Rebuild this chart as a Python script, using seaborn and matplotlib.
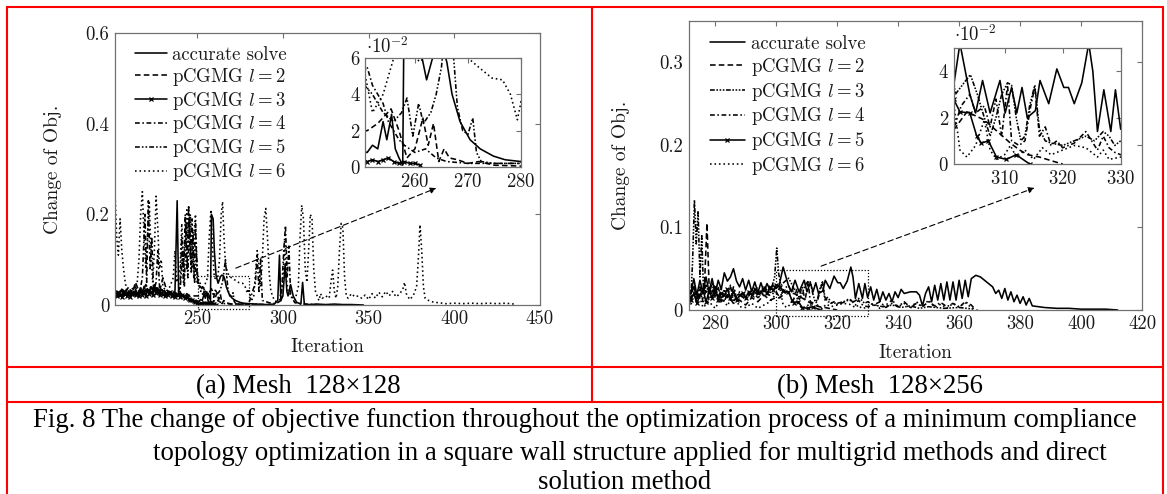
import pandas as pd
import matplotlib
matplotlib.use("Agg")
import matplotlib.pyplot as plt
import seaborn as sns
from matplotlib.lines import Line2D
from matplotlib.patches import Rectangle

# ---------------- data: (iteration, change of objective) ----------------
# (a) mesh 128x128
a_acc = [(202, .022), (203, .030), (204, .018), (205, .027), (206, .033), (207, .021), (208, .026), (209, .019),
         (210, .031), (211, .024), (212, .028), (213, .020), (214, .034), (215, .025), (216, .029), (217, .038),
         (218, .027), (219, .041), (220, .030), (221, .036), (222, .026), (223, .040), (224, .031), (225, .045),
         (226, .029), (227, .038), (228, .024), (229, .035), (230, .028), (231, .032), (232, .022), (233, .030),
         (234, .025), (235, .028), (236, .020), (237, .026), (238.3, .23), (239.2, .02), (240, .025), (241, .018),
         (242, .022), (243, .015), (244, .018), (245, .012), (246, .014), (247, .010), (248, .009), (249, .008),
         (250, .009), (251, .008), (252, .012), (253, .010), (254, .025), (254.7, .015), (255.6, .029), (256.3, .010),
         (257, .005), (257.7, .001), (258.3, .20), (259.3, .19), (260, .12), (261, .065), (262.2, .048), (263.6, .063),
         (264.5, .066), (265.3, .064), (266, .058), (267, .040), (268.5, .025), (270.4, .015), (272.3, .010),
         (274.8, .006), (277, .004), (280, .003), (285, .002), (290, .001), (295, .002), (297, .010), (298, .11),
         (298.8, .010), (300, .020), (301.3, .09), (302.3, .030), (303, .020), (304.5, .045), (306, .020), (308, .006),
         (310.5, .002), (311.5, .050), (312.5, .002), (315, .001), (320, .002), (325, .001), (330, .002), (335, .001),
         (340, .001), (347, 0)]
a_l2 = [(202, .030), (204, .022), (206, .035), (208, .027), (210, .040), (212, .025), (214, .050), (216, .030),
        (218, .028), (220, .045), (222, .032), (224, .026), (226, .038), (228, .030), (230, .060), (232, .035),
        (234, .025), (236, .030), (238, .022), (240, .028), (242, .020), (244, .025), (246, .018), (248, .020),
        (250, .020), (251, .020), (253, .024), (255.5, .032), (257, .020), (258.5, .005), (260, .010), (261.5, .027),
        (262.5, .012), (263.5, .024), (264.5, .003), (265.5, .010), (266.5, .005), (268, .004), (270, .002),
        (272, .003), (275, .001), (280, .0005), (285, 0)]
a_l3 = [(202, .025), (203, .019), (204, .028), (205, .022), (206, .017), (207, .030), (208, .024), (209, .020),
        (210, .027), (211, .018), (212, .025), (213, .029), (214, .021), (215, .026), (216, .019), (217, .031),
        (218, .023), (219, .028), (220, .020), (221, .033), (222, .025), (223, .029), (224, .022), (225, .035),
        (226, .026), (227, .030), (228, .021), (229, .027), (230, .024), (231, .019), (232, .026), (233, .022),
        (234, .028), (235, .020), (236, .024), (237, .018), (238, .025), (239, .021), (240, .017), (241, .023),
        (242, .019), (243, .015), (244, .020), (245, .014), (246, .011), (247, .012), (248, .008), (249, .006),
        (250, .005), (251, .003), (252, .004), (253, .003), (254, .004), (255, .005), (256, .003), (257, .002),
        (258, .003), (259, .002), (260, .002), (261, .001)]
a_l4 = [(202, .020), (206, .030), (210, .025), (214, .040), (216, .020), (218, .060), (219.5, .20), (220.5, .05),
        (221.5, .23), (222.5, .08), (223.5, .15), (224.5, .03), (226, .05), (227, .12), (228, .04), (230, .03),
        (232, .02), (234, .03), (236, .02), (238, .02), (240, .04), (241, .15), (242, .05), (243, .20), (244, .08),
        (245, .22), (246, .10), (247, .19), (248, .06), (249, .18), (250, .05), (251, .055), (252, .045), (253, .040),
        (254, .035), (255, .025), (256, .020), (257, .015), (258, .012), (259, .010), (260, .008), (262, .010),
        (264, .005), (266, .003), (270, .002), (275, .002), (280, .002), (284, .05), (285, .11), (286, .03),
        (287, .10), (288, .01), (292, .005), (296, .003), (299, .01), (300.5, .12), (301.5, .175), (302.5, .06),
        (303.5, .13), (304.5, .02), (307, .005), (312, .002), (320, .001)]
a_l5 = [(202, .015), (205, .025), (208, .020), (211, .030), (214, .025), (217, .035), (220, .030), (223, .040),
        (226, .030), (229, .035), (232, .025), (235, .030), (238, .025), (240, .030), (241.5, .12), (242.5, .04),
        (243.5, .18), (244.5, .06), (245.5, .20), (246.5, .07), (247.5, .16), (248.5, .05), (249.5, .12),
        (250.5, .045), (252, .040), (254, .030), (256, .025), (257.5, .030), (258.5, .038), (259.6, .017),
        (260.7, .035), (261.6, .024), (263, .030), (264, .040), (265, .055), (265.8, .080), (266.5, .10),
        (267.3, .060), (268, .033), (269, .020), (270, .018), (270.9, .027), (271.6, .008), (272.5, .003),
        (275, .002), (280, .002), (290, .001)]
a_l6 = [(202, .25), (203, .15), (204, .11), (205, .19), (206, .12), (207, .08), (208, .05), (209, .03), (211, .03),
        (213, .04), (215, .05), (216, .10), (217, .20), (218, .25), (219, .15), (220, .08), (221, .15), (222, .23),
        (223, .12), (224, .05), (225, .12), (226, .24), (227, .17), (228, .08), (229, .10), (230, .04), (232, .03),
        (234, .04), (236, .06), (237, .12), (238, .05), (240, .08), (241, .18), (242, .10), (243, .14), (244, .21),
        (245, .12), (246, .20), (247, .08), (248, .15), (249, .20), (250, .06), (252, .03), (254, .04), (256, .06),
        (257, .15), (258, .21), (259, .12), (260, .06), (261, .058), (262, .061), (263, .10), (264, .20),
        (264.8, .228), (265.6, .15), (266.5, .09), (267.5, .075), (268.5, .065), (270, .060), (272, .055),
        (274.5, .049), (276.5, .048), (278, .040), (279.3, .026), (280, .036), (281, .020), (282, .012), (283, .020),
        (284, .07), (285, .12), (286, .09), (287, .04), (288, .10), (289, .19), (290, .213), (291, .15), (292, .07),
        (293, .03), (294, .02), (295, .01), (296, .008), (298, .01), (300, .05), (301, .14), (302, .06), (303, .03),
        (305, .02), (307, .01), (309, .04), (310, .15), (311, .22), (312, .19), (313, .08), (314, .05), (315, .12),
        (316, .20), (317, .19), (318, .08), (319, .03), (320, .02), (321, .01), (322, .025), (323, .015), (325, .02),
        (327, .015), (328, .05), (329, .077), (330, .03), (331, .015), (332, .04), (333, .12), (334, .18), (335, .17),
        (336, .06), (337, .02), (338, .015), (340, .025), (342, .018), (344, .02), (346, .015), (348, .022),
        (350, .012), (352, .025), (354, .015), (356, .028), (358, .018), (360, .03), (362, .02), (364, .03),
        (366, .018), (368, .024), (370, .035), (371, .05), (372, .025), (374, .012), (376, .02), (378, .04),
        (379, .10), (380, .177), (381, .12), (382, .04), (383, .015), (385, .01), (388, .006), (391, .005),
        (395, .003), (400, .004), (405, .003), (410, .004), (415, .003), (420, .004), (425, .003), (430, .004),
        (435, .002)]

# (b) mesh 128x256
b_acc = [(271.5, .025), (272, .020), (273, .038), (274, .018), (275, .036), (276, .020), (277, .040), (278, .022),
         (279, .038), (280, .020), (281, .036), (282, .025), (283, .045), (284, .035), (285, .040), (286, .050),
         (287, .035), (288, .028), (289, .038), (290, .024), (291, .036), (292, .022), (293, .034), (294, .021),
         (295, .033), (296, .022), (297, .032), (298, .024), (299, .030), (300, .026), (301, .030), (302.3, .052),
         (304, .030), (305, .022), (306.2, .036), (307.5, .022), (309.2, .036), (310.1, .022), (311.2, .033),
         (312.1, .022), (313, .033), (313.9, .020), (315.3, .023), (316.1, .036), (317.6, .026), (319, .041),
         (320.2, .033), (321, .033), (322, .026), (323.3, .035), (324.5, .052), (325.2, .040), (326, .014),
         (327.1, .032), (328.3, .014), (329.1, .032), (330, .015), (331, .028), (332, .012), (333, .025), (334, .010),
         (335, .022), (336, .012), (337, .020), (338, .010), (339, .022), (340, .015), (341, .025), (342, .020),
         (344, .022), (346, .022), (347, .018), (348, .005), (349, .020), (350, .028), (351, .010), (352, .030),
         (353, .012), (354, .032), (355, .012), (356, .034), (357, .012), (358, .034), (359, .012), (360, .036),
         (361, .014), (362, .036), (363, .016), (364, .038), (365.5, .042), (367, .040), (369, .034), (371, .028),
         (372, .020), (373, .024), (374, .014), (375, .026), (376, .012), (377, .022), (378, .010), (379, .018),
         (380, .008), (381, .016), (382, .006), (383, .014), (384, .005), (386, .004), (388, .003), (392, .002),
         (396, .002), (400, .001), (404, .001), (408, .001), (412, 0)]
b_l2 = [(271.5, .012), (272, .015), (273, .030), (274, .010), (275, .025), (276, .020), (276.5, .030), (277.3, .105),
        (278, .030), (279, .015), (280, .022), (282, .010), (284, .018), (286, .008), (288, .012), (290, .006),
        (292, .015), (294, .010), (296, .018), (298, .012), (300, .015), (301.2, .0146), (303.5, .0225),
        (306.5, .019), (309.2, .013), (311, .009), (312.6, .006), (314, .004), (316, .003), (318.6, .001), (320, 0)]
b_l3 = [(271.5, .012), (272, .010), (272.6, .06), (273.2, .133), (273.8, .08), (274.4, .12), (275, .04), (275.6, .09),
        (276.2, .02), (277, .03), (278, .02), (279, .032), (280, .015), (281, .028), (282, .012), (283, .025),
        (284, .015), (285, .03), (286, .01), (288, .022), (290, .015), (292, .025), (294, .018), (296, .028),
        (298, .02), (299.5, .04), (300.2, .075), (300.8, .045), (301.5, .03), (303, .035), (304.1, .0385),
        (305.3, .03), (306.5, .02), (307.5, .012), (308.5, .02), (309.5, .03), (310.5, .035), (311.2, .034),
        (312, .02), (312.8, .01), (313.5, .012), (314.3, .025), (315.2, .034), (316, .015), (317, .01), (318, .009),
        (320, .008), (322, .01), (324, .012), (325.5, .01), (327, .014), (328, .012), (329, .008), (330, .01),
        (332, .006), (335, .004), (338, .006), (341, .003), (344, .005), (347, .002), (350, .004), (355, .002),
        (360, .003), (365, .001)]
b_l4 = [(271.5, .018), (272, .020), (273, .030), (274, .015), (275, .028), (276, .010), (277, .025), (278, .012),
        (279, .022), (280, .030), (281, .015), (282, .025), (283, .010), (284, .020), (285, .012), (286, .028),
        (287, .015), (288, .020), (290, .012), (292, .022), (294, .015), (296, .020), (298, .018), (300, .022),
        (301.2, .015), (302.5, .025), (304, .030), (305, .022), (306.5, .025), (307.5, .016), (308.5, .028),
        (309.5, .012), (310.5, .034), (311.2, .010), (312.5, .008), (313.5, .010), (314.5, .025), (315.2, .033),
        (316, .012), (317, .016), (318, .008), (319, .010), (320, .007), (322, .009), (324, .014), (325, .010),
        (326, .006), (327, .012), (328, .007), (329, .005), (330, .004), (332, .006), (334, .010), (336, .003),
        (338, .008), (340, .004), (342, .010), (344, .003), (346, .008), (348, .004), (350, .010), (352, .005),
        (354, .009), (356, .004), (358, .008), (360, .003), (362, .010), (364, .006), (365, .002)]
b_l5 = [(271.5, .015), (272, .012), (273, .020), (274, .008), (275, .018), (276, .025), (277, .010), (278, .022),
        (279, .015), (280, .028), (281, .012), (282, .020), (283, .018), (284, .025), (285, .015), (286, .022),
        (287, .012), (288, .018), (289, .020), (290, .015), (291, .022), (292, .018), (293, .025), (294, .020),
        (295, .022), (296, .026), (297, .020), (298, .028), (299, .024), (300, .030), (301.2, .028), (302.3, .0225),
        (304, .022), (305.2, .012), (306, .009), (307.2, .010), (308.6, .003), (310.3, .002), (312, .004),
        (314.3, 0)]
b_l6 = [(271.5, .008), (272, .005), (273, .020), (274, .008), (275, .015), (276, .003), (278, .010), (280, .002),
        (282, .015), (284, .005), (286, .020), (288, .004), (290, .003), (292, .008), (294, .002), (296, .006),
        (298, .010), (300, .020), (301.2, .027), (302.3, .006), (303.5, .003), (305, .008), (306.5, .019),
        (307.5, .006), (308.6, .002), (310, .004), (311, .008), (312, .003), (313.5, .006), (315, .002),
        (316.5, .007), (318, .004), (320, .006), (322, .008), (324, .007), (326, .003), (327, .006), (328, .002),
        (330, .003), (332, .008), (334, .002), (336, .006), (338, .012), (340, .004), (342, .008), (344, .002),
        (346, .010), (348, .004), (350, .012), (352, .003), (354, .007), (356, .002), (358, .008), (360, .004),
        (362, .009), (364, .003), (366, 0)]

labels = ["accurate solve", r"pCGMG $l=2$", r"pCGMG $l=3$", r"pCGMG $l=4$", r"pCGMG $l=5$", r"pCGMG $l=6$"]
a_series = [a_acc, a_l2, a_l3, a_l4, a_l5, a_l6]
b_series = [b_acc, b_l2, b_l3, b_l4, b_l5, b_l6]

a_xticks = [250, 300, 350, 400, 450]
a_yticks = [0, 0.2, 0.4, 0.6]
a_yticklabels = ["0", "0.2", "0.4", "0.6"]
a_in_xticks = [260, 270, 280]
a_in_yticks = [0, 2, 4, 6]
b_xticks = [280, 300, 320, 340, 360, 380, 400, 420]
b_yticks = [0, 0.1, 0.2, 0.3]
b_yticklabels = ["0", "0.1", "0.2", "0.3"]
b_in_xticks = [310, 320, 330]
b_in_yticks = [0, 2, 4]

# ---------------- styles ----------------
solid = dict(linestyle="-")
dashed = dict(linestyle=(0, (3.5, 2)))
dotted = dict(linestyle=(0, (1, 1.8)))
dashdot = dict(linestyle=(0, (3, 1.6, 1, 1.6)))
dashdotdot = dict(linestyle=(0, (3, 1.3, 1, 1.3, 1, 1.3)))
dense_dd = dict(linestyle=(0, (3, 1, 1, 1, 1, 1, 1, 1)))
xmark = dict(linestyle="-", marker="x", markersize=3.2, markeredgewidth=0.9, markeredgecolor="black")

a_styles = [solid, dashed, xmark, dashdot, dashdotdot, dotted]
b_styles = [solid, dashed, dense_dd, dashdot, xmark, dotted]

sns.set_theme(style="white")
plt.rcParams["font.family"] = "serif"
plt.rcParams["font.serif"] = ["cmr10"]
plt.rcParams["mathtext.fontset"] = "cm"
plt.rcParams["axes.formatter.use_mathtext"] = True
plt.rcParams["axes.unicode_minus"] = False

fig = plt.figure(figsize=(11.67, 4.94), dpi=100)
fig.patch.set_facecolor("white")

GRAY = "#707070"
TXT = "#1a1a1a"


def draw(ax, series, styles, scale=1.0, with_labels=False, lw=1.15):
    for pts, st, lab in zip(series, styles, labels):
        df = pd.DataFrame(pts, columns=["it", "chg"])
        df["chg"] = df["chg"] * scale
        kw = dict(st)
        if with_labels:
            kw["label"] = lab
        sns.lineplot(data=df, x="it", y="chg", ax=ax, color="black", lw=lw,
                     estimator=None, legend=False, **kw)
    ax.set_xlabel("")
    ax.set_ylabel("")


def style_axes(ax, size):
    for s in ax.spines.values():
        s.set_color(GRAY)
        s.set_linewidth(0.9)
    ax.tick_params(direction="in", length=3.5, width=0.8, color=GRAY, top=True, right=True,
                   labelsize=size, labelcolor=TXT, pad=4)


# ---------------- panel (a) ----------------
ax_a = fig.add_axes([0.0985, 0.3826, 0.3642, 0.5506])
draw(ax_a, a_series, a_styles, with_labels=True)
ax_a.set_xlim(202, 450)
ax_a.set_ylim(0, 0.6)
ax_a.set_xticks(a_xticks)
ax_a.set_xticklabels([str(t) for t in a_xticks])
ax_a.set_yticks(a_yticks)
ax_a.set_yticklabels(a_yticklabels)
style_axes(ax_a, 13.5)
ax_a.set_xlabel("Iteration", fontsize=14, color=TXT)
ax_a.set_ylabel("Change of Obj.", fontsize=14, color=TXT)
ax_a.xaxis.set_label_coords(0.5, -0.12)
ax_a.yaxis.set_label_coords(-0.125, 0.5)
ax_a.add_patch(Rectangle((250.5, -0.008), 29.5, 0.072, fill=False, ec="black", lw=0.9,
                         ls=(0, (1, 1.5)), clip_on=False, zorder=5))
ax_a.annotate("", xy=(391, 0.26), xytext=(271, 0.079),
              arrowprops=dict(arrowstyle="-|>", color="black", lw=0.8, ls=(0, (5, 3)), mutation_scale=9))
ax_a.legend(loc="upper left", bbox_to_anchor=(0.1154, 0.907), bbox_transform=fig.transFigure,
            frameon=False, fontsize=13.5, handlelength=1.7, handletextpad=0.3, labelspacing=0.1,
            borderpad=0, borderaxespad=0, labelcolor=TXT)

ax_ai = fig.add_axes([0.3128, 0.6619, 0.1337, 0.2206])
ax_ai.set_facecolor("white")
draw(ax_ai, a_series, a_styles, scale=100)
ax_ai.set_xlim(250.6, 280)
ax_ai.set_ylim(0, 6)
ax_ai.set_xticks(a_in_xticks)
ax_ai.set_yticks(a_in_yticks)
ax_ai.set_yticklabels([str(t) for t in a_in_yticks])
style_axes(ax_ai, 13.5)
fig.text(366 / 1167, 1 - 47 / 494, r"$\cdot10^{-2}$", fontsize=13.5, ha="left", va="center", color=TXT)

# ---------------- panel (b) ----------------
ax_b = fig.add_axes([0.5901, 0.3725, 0.3885, 0.585])
draw(ax_b, b_series, b_styles, with_labels=True)
ax_b.set_xlim(271.3, 420)
ax_b.set_ylim(0, 0.35)
ax_b.set_xticks(b_xticks)
ax_b.set_xticklabels([str(t) for t in b_xticks])
ax_b.set_yticks(b_yticks)
ax_b.set_yticklabels(b_yticklabels)
style_axes(ax_b, 13.5)
ax_b.set_xlabel("Iteration", fontsize=14, color=TXT)
ax_b.set_ylabel("Change of Obj.", fontsize=14, color=TXT)
ax_b.xaxis.set_label_coords(0.5, -0.118)
ax_b.yaxis.set_label_coords(-0.129, 0.5)
ax_b.add_patch(Rectangle((300, -0.007), 30, 0.056, fill=False, ec="black", lw=0.9,
                         ls=(0, (1, 1.5)), clip_on=False, zorder=5))
ax_b.annotate("", xy=(385.6, 0.149), xytext=(313.9, 0.052),
              arrowprops=dict(arrowstyle="-|>", color="black", lw=0.8, ls=(0, (5, 3)), mutation_scale=9))
ax_b.legend(loc="upper left", bbox_to_anchor=(0.608, 0.929), bbox_transform=fig.transFigure,
            frameon=False, fontsize=13.5, handlelength=1.9, handletextpad=0.3, labelspacing=0.15,
            borderpad=0, borderaxespad=0, labelcolor=TXT)

ax_bi = fig.add_axes([0.8171, 0.668, 0.1432, 0.2348])
ax_bi.set_facecolor("white")
draw(ax_bi, b_series, b_styles, scale=100)
ax_bi.set_xlim(301.2, 330)
ax_bi.set_ylim(0, 5)
ax_bi.set_xticks(b_in_xticks)
ax_bi.set_yticks(b_in_yticks)
ax_bi.set_yticklabels([str(t) for t in b_in_yticks])
style_axes(ax_bi, 13.5)
fig.text(954 / 1167, 1 - 35 / 494, r"$\cdot10^{-2}$", fontsize=13.5, ha="left", va="center", color=TXT)

# ---------------- table frame and captions ----------------
RED = "#ff0000"
frame = [([0.006, 0.9966], [0.9858, 0.9858]),
         ([0.006, 0.006], [0.0, 0.9858]),
         ([0.9966, 0.9966], [0.0, 0.9858]),
         ([0.5073, 0.5073], [0.1862, 0.9858]),
         ([0.006, 0.9966], [0.2571, 0.2571]),
         ([0.006, 0.9966], [0.1862, 0.1862])]
for xs, ys in frame:
    fig.add_artist(Line2D(xs, ys, transform=fig.transFigure, color=RED, lw=1.5))

cap = dict(family="Liberation Serif", fontsize=19.3, color="black")
fig.text(298 / 1167, 1 - 393 / 494, "(a) Mesh  128\u00d7128", ha="center", va="baseline", **cap)
fig.text(880 / 1167, 1 - 393 / 494, "(b) Mesh  128\u00d7256", ha="center", va="baseline", **cap)
fig.text(33 / 1167, 1 - 427 / 494,
         "Fig. 8 The change of objective function throughout the optimization process of a minimum compliance",
         ha="left", va="baseline", **cap)
fig.text(153 / 1167, 1 - 460 / 494,
         "topology optimization in a square wall structure applied for multigrid methods and direct",
         ha="left", va="baseline", **cap)
fig.text(625 / 1167, 1 - 489 / 494, "solution method", ha="center", va="baseline", **cap)

fig.savefig("out.png", dpi=100, facecolor="white")
